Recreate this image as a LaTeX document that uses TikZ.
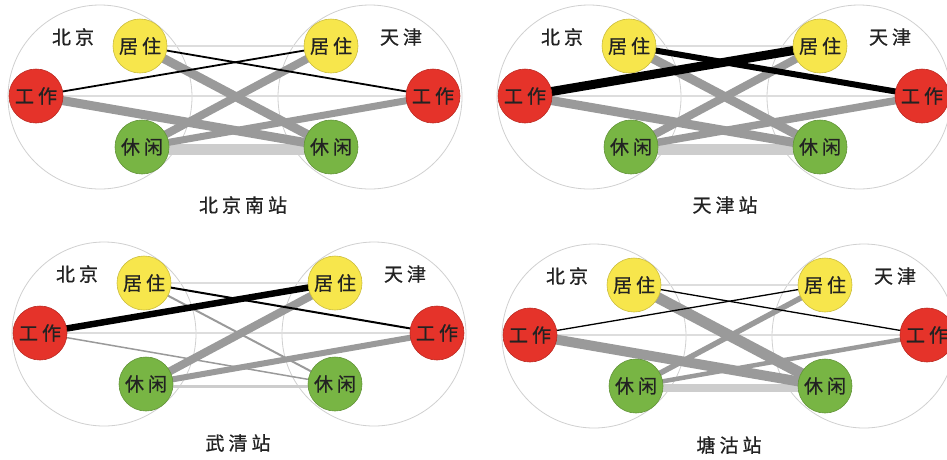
\documentclass[tikz,border=0pt]{standalone}
\usepackage{fontspec}
\newfontfamily\cjk[FakeBold=0.8]{Noto Sans CJK SC}
\pgfdeclarelayer{circles}
\pgfdeclarelayer{links}
\pgfsetlayers{circles,links,main}

\definecolor{workred}{HTML}{E5332A}
\definecolor{homeyel}{HTML}{F7E64C}
\definecolor{leisgrn}{HTML}{78B544}
\definecolor{inkc}{HTML}{222222}
\definecolor{midgrey}{HTML}{9A9A9A}
\definecolor{lightgrey}{HTML}{CDCDCD}
\definecolor{faintgrey}{HTML}{DDDDDD}
\definecolor{ringgrey}{HTML}{D0D0D0}

\newcommand\zgap{\kern4pt}

\tikzset{
  txt/.style={font=\cjk\fontsize{19}{19}\selectfont, text=inkc},
  place/.style={circle, minimum size=54pt, inner sep=0pt, fill=#1,
    draw=#1!82!black, line width=0.6pt, txt},
  homept/.style={place=homeyel},
  workpt/.style={place=workred},
  leispt/.style={place=leisgrn},
  lbl/.style={txt, inner sep=0pt},
  region/.style={circle, minimum size=184pt, inner sep=0pt, draw=ringgrey, line width=0.8pt},
  faint/.style={draw=faintgrey, line width=1.5pt},
  strong/.style={draw=black, line width=#1},
  medium/.style={draw=midgrey, line width=#1},
  weak/.style={draw=lightgrey, line width=#1},
}

% six activity nodes, city labels and the two city rings of one panel
\newcommand\citypair[1]{%
  \node[homept] (#1hL) at (140,46) {居\zgap 住};
  \node[workpt] (#1wL) at (36,96) {工\zgap 作};
  \node[leispt] (#1lL) at (142,147) {休\zgap 闲};
  \node[homept] (#1hR) at (331,46) {居\zgap 住};
  \node[workpt] (#1wR) at (433,96) {工\zgap 作};
  \node[leispt] (#1lR) at (331,147) {休\zgap 闲};
  \node[lbl] (#1bj) at (73,37) {北\zgap 京};
  \node[lbl] (#1tj) at (401,37) {天\zgap 津};
  \begin{pgfonlayer}{circles}
    \node[region] (#1cL) at (100,97) {};
    \node[region] (#1cR) at (370,97) {};
  \end{pgfonlayer}
  \begin{pgfonlayer}{links}
    \draw[faint] (#1hL.center) -- (#1hR.center);
    \draw[faint] (#1wL.center) -- (#1wR.center);
  \end{pgfonlayer}
}

% commuting flows between the cities, widths given per link
\newcommand\flows[8]{%
  \begin{pgfonlayer}{links}
    \draw[weak=#8] ([yshift=-2pt]#1lL.center) -- ([yshift=-2pt]#1lR.center);
    \draw[medium=#4] (#1hL.center) -- (#1lR.center);
    \draw[medium=#5] (#1lL.center) -- (#1hR.center);
    \draw[medium=#6] (#1wL.center) -- (#1lR.center);
    \draw[medium=#7] (#1lL.center) -- (#1wR.center);
    \draw[strong=#2] (#1hL.center) -- (#1wR.center);
    \draw[strong=#3] (#1wL.center) -- (#1hR.center);
  \end{pgfonlayer}
}

\begin{document}
\begin{tikzpicture}[x=1pt,y=-1pt]
\useasboundingbox (0,0) rectangle (947,459);

\begin{scope}
  \citypair{a}
  \flows{a}{1.8pt}{1.8pt}{9pt}{8pt}{9pt}{7pt}{11pt}
  \node[lbl] (acap) at (243,205) {北\zgap 京\zgap 南\zgap 站};
\end{scope}

\begin{scope}[shift={(489,0)}]
  \citypair{b}
  \flows{b}{6pt}{9pt}{9pt}{8pt}{9pt}{7.5pt}{11pt}
  \node[lbl] (bcap) at (236,205) {天\zgap 津\zgap 站};
\end{scope}

\begin{scope}[shift={(4,237)}]
  \citypair{c}
  \flows{c}{2pt}{6.5pt}{2pt}{8pt}{1.5pt}{6pt}{3pt}
  \node[lbl] (ccap) at (234,206) {武\zgap 清\zgap 站};
\end{scope}

\begin{scope}[shift={(494,239)}]
  \citypair{d}
  \flows{d}{1.3pt}{1.3pt}{11pt}{5.5pt}{10pt}{4.5pt}{8pt}
  \node[lbl] (dcap) at (235,206) {塘\zgap 沽\zgap 站};
\end{scope}
\end{tikzpicture}
\end{document}
